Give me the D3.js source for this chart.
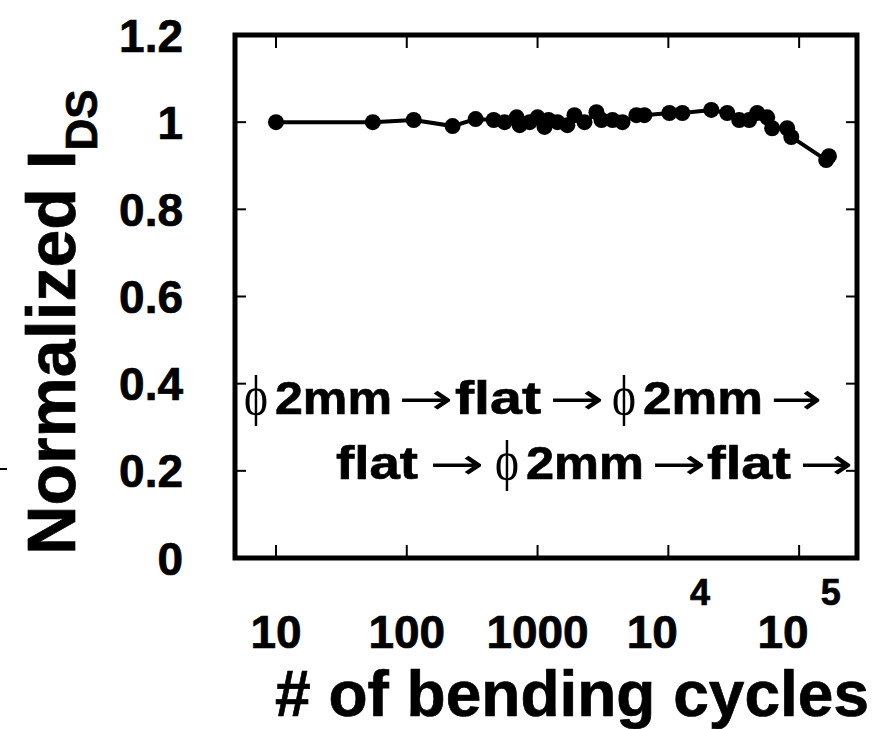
<!DOCTYPE html>
<html>
<head>
<meta charset="UTF-8">
<script src="https://cdn.jsdelivr.net/npm/d3@7/dist/d3.min.js"></script>
<style>
  body { margin: 0; background: #fff; }
  text { font-family: "Liberation Sans", Arial, sans-serif; font-weight: bold; fill: #000; }
  text.heavy { stroke: #000; stroke-width: 0.7px; }
</style>
</head>
<body>
<svg width="882" height="729"></svg>
<script>
// bending cycles vs normalized I_DS
var cycles = [10, 55, 113, 224, 336, 462, 560, 692, 730, 870, 1000, 1130, 1213, 1420, 1690,
  1915, 2285, 2820, 3080, 3740, 4460, 5700, 6560, 10180, 12800, 21300, 28200, 34800, 41500,
  47800, 57000, 62200, 81000, 87100, 161000, 169000];
var normIds = [1.0, 1.0, 1.005, 0.991, 1.007, 1.005, 1.0, 1.011, 0.993, 1.0, 1.011, 0.989, 1.005,
  1.0, 0.993, 1.016, 1.0, 1.023, 1.005, 1.005, 1.0, 1.016, 1.016, 1.021, 1.021, 1.028, 1.021,
  1.005, 1.005, 1.021, 1.011, 0.986, 0.986, 0.966, 0.913, 0.922];

var yTicks = [0, 0.2, 0.4, 0.6, 0.8, 1, 1.2];
var yTickLabels = ["0", "0.2", "0.4", "0.6", "0.8", "1", "1.2"];
var xTicks = [10, 100, 1000, 1e4, 1e5];
var xTickBase = ["10", "100", "1000", "10", "10"];
var xTickExp = ["", "", "", "4", "5"];

var svg = d3.select("svg");
var marge = {left: 235, right: 857, top: 35, bottom: 558};

var x = d3.scaleLog().domain([4.86, 2.77e5]).range([marge.left, marge.right]);
var y = d3.scaleLinear().domain([0, 1.2]).range([marge.bottom, marge.top]);

// ticks (inside, all four sides)
var tk = svg.append("g").attr("stroke", "#000").attr("stroke-width", 2);
yTicks.forEach(function(t){
  tk.append("line").attr("x1", marge.left).attr("x2", marge.left + 11).attr("y1", y(t)).attr("y2", y(t));
  tk.append("line").attr("x1", marge.right).attr("x2", marge.right - 11).attr("y1", y(t)).attr("y2", y(t));
});
xTicks.forEach(function(t){
  tk.append("line").attr("x1", x(t)).attr("x2", x(t)).attr("y1", marge.bottom).attr("y2", marge.bottom - 13);
  tk.append("line").attr("x1", x(t)).attr("x2", x(t)).attr("y1", marge.top).attr("y2", marge.top + 13);
});

// frame
svg.append("rect")
  .attr("x", marge.left).attr("y", marge.top)
  .attr("width", marge.right - marge.left).attr("height", marge.bottom - marge.top)
  .attr("fill", "none").attr("stroke", "#000").attr("stroke-width", 5);

// y tick labels
svg.append("g").selectAll("text")
  .data(yTicks).enter().append("text")
  .attr("class", "heavy")
  .attr("x", 183).attr("y", function(d){ return y(d); })
  .attr("dy", "0.36em")
  .attr("text-anchor", "end")
  .style("font-size", "46px")
  .text(function(d, i){ return yTickLabels[i]; });

// x tick labels
var xl = svg.append("g").selectAll("text")
  .data(xTicks).enter().append("text")
  .attr("class", "heavy")
  .attr("x", function(d){ return x(d); })
  .attr("y", 648)
  .attr("text-anchor", "middle")
  .style("font-size", "46px");
xl.append("tspan").text(function(d, i){ return xTickBase[i]; });
xl.append("tspan")
  .attr("dx", function(d, i){ return xTickExp[i] ? 12 : 0; })
  .attr("dy", -43)
  .style("font-size", "36px")
  .text(function(d, i){ return xTickExp[i]; });

// line + dots
var line = d3.line()
  .x(function(d, i){ return x(cycles[i]); })
  .y(function(d){ return y(d); });
svg.append("path")
  .attr("d", line(normIds))
  .attr("fill", "none").attr("stroke", "#000").attr("stroke-width", 4);
svg.append("g").selectAll("circle")
  .data(normIds).enter().append("circle")
  .attr("cx", function(d, i){ return x(cycles[i]); })
  .attr("cy", function(d){ return y(d); })
  .attr("r", 8)
  .attr("fill", "#000");

// annotation: [text, left x, width]
var ann1 = [["ϕ", 244, 24], ["2mm", 275, 117], ["→", 398, 55], ["flat", 455, 86], ["→", 549, 55],
  ["ϕ", 612, 24], ["2mm", 643, 120], ["→", 770, 52]];
var ann2 = [["flat", 336, 82], ["→", 429, 55], ["ϕ", 495, 24], ["2mm", 526, 118], ["→", 651, 55],
  ["flat", 707, 84], ["→", 799, 54]];
function anno(parts, yp){
  parts.forEach(function(p){
    var t = svg.append("text")
      .attr("x", p[1]).attr("y", yp)
      .attr("textLength", p[2]).attr("lengthAdjust", "spacingAndGlyphs")
      .text(p[0]);
    if (p[0] === "ϕ") {
      t.style("font-weight", "normal").style("font-family", "'Liberation Serif', serif").style("font-size", "54px");
    } else if (p[0] === "→") {
      t.style("font-weight", "normal").style("font-family", "'DejaVu Sans', sans-serif").style("font-size", "44px");
    } else {
      t.attr("class", "heavy").style("font-size", "47px");
    }
  });
}
anno(ann1, 414);
anno(ann2, 479);

// axis titles
svg.append("text")
  .attr("class", "heavy")
  .attr("x", 572).attr("y", 716)
  .attr("text-anchor", "middle")
  .style("font-size", "64px")
  .text("# of bending cycles");

var yt = svg.append("text")
  .attr("class", "heavy")
  .attr("transform", "translate(75,322) rotate(-90)")
  .attr("text-anchor", "middle")
  .style("font-size", "68px");
yt.append("tspan").text("Normalized I");
yt.append("tspan").attr("dy", 22).style("font-size", "44px").text("DS");

// stray mark at left edge
svg.append("line").attr("x1", 0).attr("x2", 7).attr("y1", 469).attr("y2", 469)
  .attr("stroke", "#000").attr("stroke-width", 2);
</script>
</body>
</html>
